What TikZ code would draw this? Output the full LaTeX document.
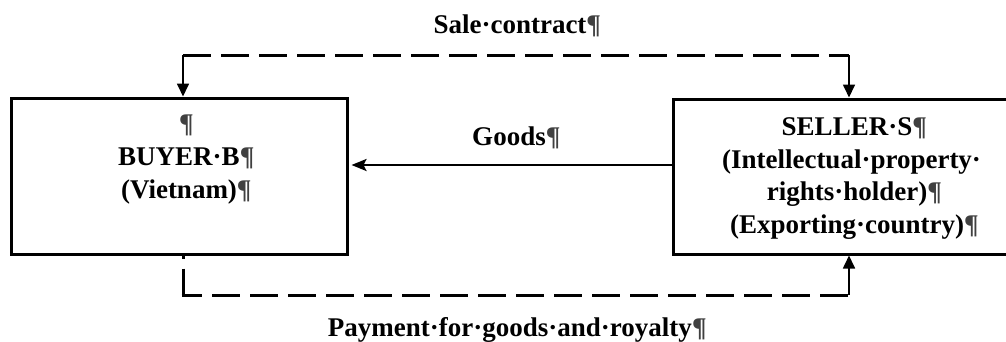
\documentclass[tikz,border=0pt]{standalone}
\usepackage{fontspec}
\setmainfont{Liberation Serif}
\usetikzlibrary{arrows.meta}
\newcommand\pilc{\textcolor{black!75}{¶}}
\begin{document}
\begin{tikzpicture}[x=1pt,y=-1pt,
  lbl/.style={inner sep=0pt,anchor=base,font=\bfseries\fontsize{27}{32.7}\selectfont},
  boxstyle/.style={draw,line width=3pt,inner sep=0pt},
  dashline/.style={line width=3pt,dash pattern=on 28pt off 10pt},
  thinarrow/.style={line width=1.7pt,-{Triangle[length=13pt,width=12pt]}},
  goodsarrow/.style={line width=2.4pt,-{Stealth[length=15pt,width=12pt,inset=3pt]}}]
\useasboundingbox (0,0) rectangle (1006,341);

% boxes
\node[boxstyle,minimum width=336pt,minimum height=156pt] (buyer) at (179,176) {};
\node[boxstyle,minimum width=348pt,minimum height=155pt] (seller) at (847,176.5) {};

% corner coordinates
\coordinate (tl) at (183,55);
\coordinate (tr) at (849,55);
\coordinate (bl) at (183,295);
\coordinate (br) at (849,295);
\coordinate (gy) at (0,165);

% sale contract (top)
\draw[dashline] (tl) -- (tr);
\draw[thinarrow] (tl) -- (tl |- buyer.north);
\draw[thinarrow] (tr) -- (tr |- seller.north);

% payment (bottom)
\draw[dashline,dash phase=25pt] (bl |- buyer.south) -- (bl);
\draw[dashline,dash phase=7.5pt] ([xshift=-1.5pt]bl) -- (br);
\draw[thinarrow] (br) -- (br |- seller.south);

% goods
\draw[goodsarrow,shorten >=3pt] (seller.west |- gy) -- (buyer.east |- gy);

% labels
\node[lbl] (salelbl) at (510,33) {Sale·contract\rlap{\pilc}};
\node[lbl] (goodslbl) at (509,145) {Goods\rlap{\pilc}};
\node[lbl] (paylbl) at (510,336) {Payment·for·goods·and·royalty\rlap{\pilc}};

% buyer text
\node[lbl] (b0) at (179,132) {\rlap{\pilc}};
\node[lbl] (b1) at (179,165) {BUYER·B\rlap{\pilc}};
\node[lbl] (b2) at (179,198) {(Vietnam)\rlap{\pilc}};

% seller text
\node[lbl] (s1) at (847,135) {SELLER·S\rlap{\pilc}};
\node[lbl] (s2) at (847,168) {(Intellectual·property\rlap{·}};
\node[lbl] (s3) at (847,200) {rights·holder)\rlap{\pilc}};
\node[lbl] (s4) at (847,233) {(Exporting·country)\rlap{\pilc}};
\end{tikzpicture}
\end{document}
